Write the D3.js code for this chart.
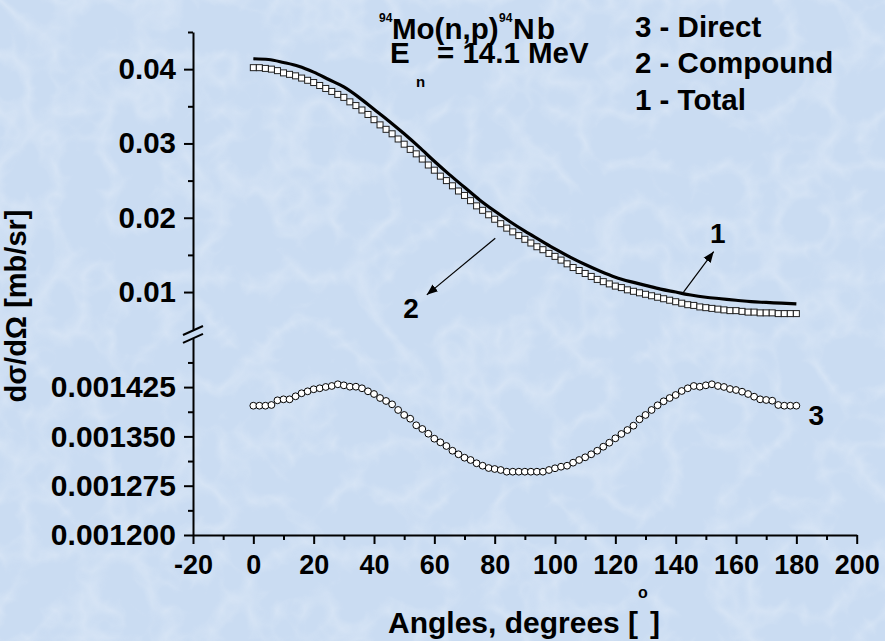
<!DOCTYPE html>
<html><head><meta charset="utf-8">
<script src="https://cdn.jsdelivr.net/npm/d3@7"></script>
<style>html,body{margin:0;padding:0;background:#d3e2f3;} svg{display:block;}</style>
</head><body><svg id="c" width="885" height="641"></svg>
<script>
// ---------- data ----------
const anglesFine = [0,2,4,6,8,10,12,14,16,18,20,22,24,26,28,30,32,34,36,38,40,42,44,46,48,50,52,54,56,58,60,62,64,66,68,70,72,74,76,78,80,82,84,86,88,90,92,94,96,98,100,102,104,106,108,110,112,114,116,118,120,122,124,126,128,130,132,134,136,138,140,142,144,146,148,150,152,154,156,158,160,162,164,166,168,170,172,174,176,178,180];
const compound = [0.0402,0.0402,0.0401,0.0400,0.0398,0.0395,0.0393,0.0391,0.0388,0.0385,0.0382,0.0378,0.0374,0.0370,0.0366,0.0362,0.0356,0.0351,0.0345,0.0339,0.0332,0.0325,0.0319,0.0313,0.0306,0.0299,0.0292,0.0286,0.0279,0.0271,0.0264,0.0256,0.0250,0.0243,0.0236,0.0230,0.0223,0.0216,0.0210,0.0204,0.0198,0.0192,0.0186,0.0181,0.0176,0.0171,0.0166,0.0161,0.0157,0.0152,0.0148,0.0143,0.0138,0.0133,0.0129,0.0125,0.0121,0.0117,0.0114,0.0111,0.0108,0.0106,0.0103,0.0101,0.0099,0.0097,0.0095,0.0093,0.0091,0.0089,0.0087,0.0085,0.0083,0.0082,0.0080,0.0079,0.0078,0.0077,0.0076,0.0075,0.0075,0.0074,0.0073,0.0073,0.0072,0.0072,0.0072,0.0071,0.0071,0.0071,0.0071];
const direct = [0.0013967,0.0013967,0.0013967,0.0013978,0.0014049,0.0014064,0.0014064,0.0014110,0.0014156,0.0014186,0.0014217,0.0014232,0.0014252,0.0014267,0.0014293,0.0014277,0.0014256,0.0014256,0.0014232,0.0014186,0.0014145,0.0014084,0.0014039,0.0013988,0.0013902,0.0013826,0.0013769,0.0013669,0.0013613,0.0013541,0.0013465,0.0013410,0.0013354,0.0013282,0.0013228,0.0013176,0.0013141,0.0013091,0.0013054,0.0013019,0.0013004,0.0012989,0.0012963,0.0012963,0.0012963,0.0012963,0.0012963,0.0012963,0.0012963,0.0012989,0.0013015,0.0013039,0.0013054,0.0013100,0.0013141,0.0013182,0.0013228,0.0013282,0.0013343,0.0013404,0.0013471,0.0013537,0.0013597,0.0013663,0.0013760,0.0013826,0.0013902,0.0013973,0.0014034,0.0014084,0.0014130,0.0014191,0.0014232,0.0014267,0.0014256,0.0014277,0.0014293,0.0014267,0.0014252,0.0014221,0.0014206,0.0014180,0.0014145,0.0014104,0.0014064,0.0014054,0.0014043,0.0013978,0.0013967,0.0013967,0.0013967];
const anglesTotal = [0,5,10,15,20,25,30,35,40,45,50,55,60,65,70,75,80,85,90,95,100,105,110,115,120,125,130,135,140,145,150,155,160,165,170,175,180];
const total = [0.0414,0.0413,0.0409,0.0404,0.0396,0.0386,0.0376,0.0362,0.0346,0.0330,0.0313,0.0295,0.0276,0.0258,0.0241,0.0224,0.0209,0.0195,0.0182,0.0170,0.0158,0.0147,0.0137,0.0128,0.0120,0.0114,0.0109,0.0104,0.0100,0.0096,0.0093,0.0091,0.0089,0.0087,0.0086,0.0085,0.0084];

const xTicks = [-20,0,20,40,60,80,100,120,140,160,180,200];
const xMinorTicks = [-10,10,30,50,70,90,110,130,150,170,190];
const yUpperTicks = [0.01,0.02,0.03,0.04];
const yUpperLabels = ["0.01","0.02","0.03","0.04"];
const yUpperMinor = [0.015,0.025,0.035,0.045];
const yLowerTicks = [0.0012,0.001275,0.00135,0.001425];
const yLowerLabels = ["0.001200","0.001275","0.001350","0.001425"];
const yLowerMinor = [0.0012375,0.0013125,0.0013875,0.0014625];

// ---------- scales ----------
const x = d3.scaleLinear().domain([-20,200]).range([193,856.7]);
const yU = d3.scaleLinear().domain([0.005,0.045]).range([329.2,32]);
const yL = d3.scaleLinear().domain([0.0012,0.0015]).range([535,337.8]);

const svg = d3.select("#c");
const FONT = "'Liberation Sans', Arial, Helvetica, sans-serif";

// background with soft marble-like texture
const defs = svg.append("defs");
const f = defs.append("filter").attr("id","tex").attr("x",0).attr("y",0).attr("width","100%").attr("height","100%");
f.append("feTurbulence").attr("type","turbulence").attr("baseFrequency","0.018").attr("numOctaves",3).attr("seed",7).attr("result","n");
f.append("feColorMatrix").attr("in","n").attr("type","matrix")
 .attr("values","0 0 0 0 1  0 0 0 0 1  0 0 0 0 1  0 0 0 -2.2 0.75");
svg.append("rect").attr("width",885).attr("height",641).attr("fill","#cadcf2");
svg.append("rect").attr("width",885).attr("height",641).attr("filter","url(#tex)").attr("opacity",0.3);

defs.append("marker").attr("id","arr").attr("viewBox","0 0 10 10").attr("refX",10).attr("refY",5)
  .attr("markerWidth",11).attr("markerHeight",11).attr("markerUnits","userSpaceOnUse").attr("orient","auto")
  .append("path").attr("d","M0,1 L10,5 L0,9 Z").attr("fill","#000");

// ---------- axes ----------
function styleAxis(g){
  g.selectAll(".domain").attr("stroke","#000").attr("stroke-width",2);
  g.selectAll(".tick line").attr("stroke","#000").attr("stroke-width",2);
  g.selectAll("text").attr("font-family",FONT).attr("font-weight","bold").attr("fill","#000");
}
const gx = svg.append("g").attr("transform","translate(0,535)")
  .call(d3.axisBottom(x).tickValues(xTicks).tickSize(9).tickSizeOuter(0).tickPadding(11).tickFormat(d=>String(d)));
styleAxis(gx); gx.selectAll("text").attr("font-size",27);
const gxm = svg.append("g").attr("transform","translate(0,535)")
  .call(d3.axisBottom(x).tickValues(xMinorTicks).tickSize(5).tickSizeOuter(0).tickFormat(""));
styleAxis(gxm); gxm.select(".domain").remove();

const gyu = svg.append("g").attr("transform","translate(193,0)")
  .call(d3.axisLeft(yU).tickValues(yUpperTicks).tickSize(9).tickSizeOuter(0).tickPadding(8).tickFormat((d,i)=>yUpperLabels[i]));
styleAxis(gyu); gyu.selectAll("text").attr("font-size",29.5);
const gyum = svg.append("g").attr("transform","translate(193,0)")
  .call(d3.axisLeft(yU).tickValues(yUpperMinor).tickSize(5).tickSizeOuter(0).tickFormat(""));
styleAxis(gyum); gyum.select(".domain").remove();
const gyl = svg.append("g").attr("transform","translate(193,0)")
  .call(d3.axisLeft(yL).tickValues(yLowerTicks).tickSize(9).tickSizeOuter(0).tickPadding(8).tickFormat((d,i)=>yLowerLabels[i]));
styleAxis(gyl); gyl.selectAll("text").attr("font-size",30);
const gylm = svg.append("g").attr("transform","translate(193,0)")
  .call(d3.axisLeft(yL).tickValues(yLowerMinor).tickSize(5).tickSizeOuter(0).tickFormat(""));
styleAxis(gylm); gylm.select(".domain").remove();

// axis break marks
const bx = x(-20);
[yU(0.005)+1.3, yL(0.0015)+0.5].forEach(cy=>{
  svg.append("line").attr("x1",bx-10).attr("y1",cy+4.5).attr("x2",bx+10).attr("y2",cy-4.5)
    .attr("stroke","#000").attr("stroke-width",2);
});

// ---------- series ----------
const plot = svg.append("g");
plot.selectAll("rect.cmp").data(anglesFine.map((a,i)=>[a,compound[i]])).join("rect")
  .attr("class","cmp").attr("x",d=>x(d[0])-3).attr("y",d=>yU(d[1])-3).attr("width",6).attr("height",6)
  .attr("fill","#fff").attr("stroke","#222").attr("stroke-width",1);
plot.append("path").datum(anglesTotal.map((a,i)=>[a,total[i]]))
  .attr("d",d3.line().x(d=>x(d[0])).y(d=>yU(d[1])).curve(d3.curveMonotoneX))
  .attr("fill","none").attr("stroke","#000").attr("stroke-width",3.2);
plot.selectAll("circle.dir").data(anglesFine.map((a,i)=>[a,direct[i]])).join("circle")
  .attr("class","dir").attr("cx",d=>x(d[0])).attr("cy",d=>yL(d[1])).attr("r",3.4)
  .attr("fill","#fff").attr("stroke","#000").attr("stroke-width",1);

// ---------- annotations ----------
function txt(s,xx,yy,size){
  return svg.append("text").attr("x",xx).attr("y",yy).attr("font-family",FONT).attr("font-weight","bold")
    .attr("font-size",size).attr("fill","#000").text(s);
}
svg.append("line").attr("x1",x(142.6)).attr("y1",yU(0.0100)).attr("x2",x(152.6)).attr("y2",yU(0.01545))
  .attr("stroke","#000").attr("stroke-width",1.2).attr("marker-end","url(#arr)");
svg.append("line").attr("x1",x(80.2)).attr("y1",yU(0.01725)).attr("x2",x(57.5)).attr("y2",yU(0.00962))
  .attr("stroke","#000").attr("stroke-width",1.2).attr("marker-end","url(#arr)");
txt("1", x(151.4), yU(0.01662), 28);
txt("2", x(49.7), yU(0.00653), 28);
txt("3", x(184), yL(0.001367), 28);

// title (separate text pieces)
txt("94", 379, 22, 12);
txt("Mo(n,p)", 392, 38.5, 29.5);
txt("94", 499, 22, 12);
txt("Nb", 513, 38.5, 30).attr("letter-spacing",2);
txt("E", 390, 63, 29.5);
txt("n", 416, 87, 15);
txt("= 14.1 MeV", 437, 63, 29.5);

// legend text
txt("3 - Direct", 635, 36.7, 29.5);
txt("2 - Compound", 635, 73.3, 29.5);
txt("1 - Total", 635, 110, 29.5);

// axis titles
txt("Angles, degrees [", 388, 633, 30);
txt("o", 638, 598, 16);
txt("]", 650, 633, 30);
svg.append("text").attr("transform","translate(26,306) rotate(-90)").attr("text-anchor","middle")
  .attr("font-family",FONT).attr("font-weight","bold").attr("font-size",29).attr("fill","#000").text("dσ/dΩ [mb/sr]");
</script></body></html>
